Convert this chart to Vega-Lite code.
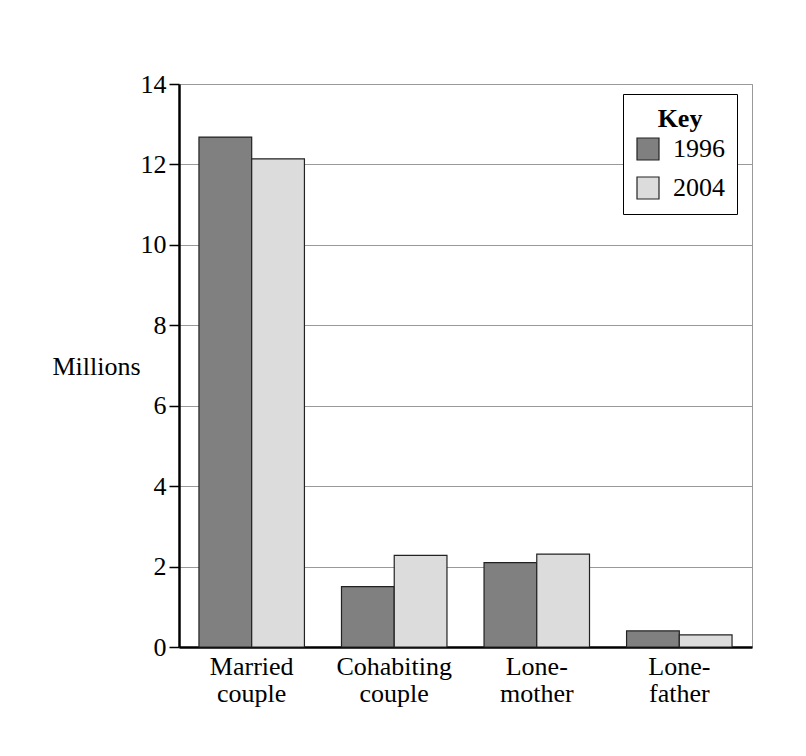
{
  "$schema": "https://vega.github.io/schema/vega-lite/v6.json",
  "width": 573,
  "height": 563,
  "autosize": {"type": "none"},
  "padding": {"left": 179, "top": 84, "right": 54, "bottom": 109},
  "background": "white",
  "data": {
    "values": [
      {"type": "Married couple", "year": "1996", "millions": 12.68},
      {"type": "Married couple", "year": "2004", "millions": 12.14},
      {"type": "Cohabiting couple", "year": "1996", "millions": 1.5},
      {"type": "Cohabiting couple", "year": "2004", "millions": 2.28},
      {"type": "Lone-mother", "year": "1996", "millions": 2.1},
      {"type": "Lone-mother", "year": "2004", "millions": 2.31},
      {"type": "Lone-father", "year": "1996", "millions": 0.4},
      {"type": "Lone-father", "year": "2004", "millions": 0.3}
    ]
  },
  "mark": {"type": "bar", "stroke": "#222222", "strokeWidth": 1.2},
  "encoding": {
    "x": {
      "field": "type",
      "type": "nominal",
      "sort": null,
      "scale": {"paddingInner": 0.26, "paddingOuter": 0.14},
      "axis": {
        "title": null,
        "labelAngle": 0,
        "labelExpr": "split(replace(datum.label, '-', '- '), ' ')",
        "labelFont": "Liberation Serif",
        "labelFontSize": 26,
        "labelColor": "#000000",
        "labelLineHeight": 27,
        "labelPadding": 6,
        "ticks": false,
        "domainColor": "#000000",
        "domainWidth": 2.5
      }
    },
    "xOffset": {"field": "year", "type": "nominal", "scale": {"paddingInner": 0, "paddingOuter": 0}},
    "y": {
      "field": "millions",
      "type": "quantitative",
      "scale": {"domain": [0, 14]},
      "axis": {
        "title": "Millions",
        "titleAngle": 0,
        "titleFont": "Liberation Serif",
        "titleFontSize": 26,
        "titleFontWeight": "normal",
        "titleColor": "#000000",
        "titleX": -83,
        "titleY": 282,
        "titleAlign": "center",
        "titleBaseline": "middle",
        "values": [0, 2, 4, 6, 8, 10, 12, 14],
        "labelFont": "Liberation Serif",
        "labelFontSize": 26,
        "labelColor": "#000000",
        "labelPadding": 3,
        "tickColor": "#000000",
        "tickSize": 10,
        "tickWidth": 1.5,
        "domainColor": "#000000",
        "domainWidth": 2.5,
        "gridColor": "#999999",
        "gridWidth": 1
      }
    },
    "fill": {
      "field": "year",
      "type": "nominal",
      "scale": {"domain": ["1996", "2004"], "range": ["#808080", "#dcdcdc"]},
      "legend": {
        "title": "Key",
        "orient": "none",
        "legendX": 444,
        "legendY": 10,
        "titleFont": "Liberation Serif",
        "titleFontSize": 26,
        "titleFontWeight": "bold",
        "titleColor": "#000000",
        "titleAnchor": "middle",
        "titlePadding": 4,
        "labelFont": "Liberation Serif",
        "labelFontSize": 26,
        "labelColor": "#000000",
        "labelOffset": 12,
        "symbolType": "square",
        "symbolSize": 484,
        "symbolStrokeColor": "#222222",
        "symbolStrokeWidth": 1.2,
        "rowPadding": 11,
        "padding": 12,
        "strokeColor": "#000000",
        "fillColor": "#ffffff"
      }
    }
  },
  "config": {
    "view": {"stroke": "#999999", "strokeWidth": 1}
  }
}
